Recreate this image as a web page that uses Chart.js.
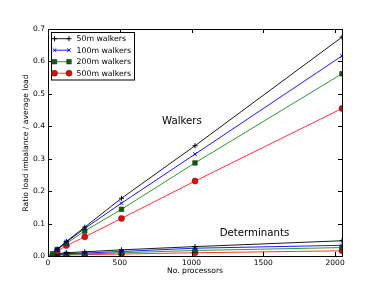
<!DOCTYPE html>
<html><head><meta charset="utf-8">
<script src="https://cdn.jsdelivr.net/npm/chart.js@4/dist/chart.umd.min.js"></script>
<style>html,body{margin:0;padding:0;background:#fff}#wrap{width:380px;height:285px}</style>
</head><body><div id="wrap"><canvas id="c" width="380" height="285"></canvas></div>
<script>
const processors = [32, 64, 128, 256, 512, 1024, 2048];
const seriesNames = ['50m walkers', '100m walkers', '200m walkers', '500m walkers'];
const walkers50  = [null, 0.021, 0.045, 0.089, 0.178, 0.340, 0.675];
const walkers100 = [null, 0.020, 0.043, 0.085, 0.163, 0.314, 0.617];
const walkers200 = [0.007, 0.020, 0.039, 0.077, 0.144, 0.287, 0.562];
const walkers500 = [null, 0.015, 0.032, 0.059, 0.116, 0.231, 0.455];
const dets50  = [0.004, 0.007, 0.010, 0.013, 0.019, 0.029, 0.047];
const dets100 = [0.003, 0.005, 0.007, 0.009, 0.014, 0.024, 0.033];
const dets200 = [0.002, 0.004, 0.005, 0.006, 0.010, 0.017, 0.026];
const dets500 = [0.001, 0.002, 0.003, 0.004, 0.006, 0.010, 0.016];
const xTicks = [0, 500, 1000, 1500, 2000];
const yTicks = [0.0, 0.1, 0.2, 0.3, 0.4, 0.5, 0.6, 0.7];
const annotations = [{text: 'Walkers', x: 794, y: 0.414}, {text: 'Determinants', x: 1196, y: 0.070}];

const styles = [
  {color: '#000000', fill: '#000000', edge: '#000000', point: 'cross', radius: 2.5, bw: 1},
  {color: '#0000ff', fill: '#0000ff', edge: '#0000ff', point: 'crossRot', radius: 2.5, bw: 1},
  {color: '#1a8c1a', fill: '#006400', edge: '#222222', point: 'rect', radius: 3.2, bw: 0.6},
  {color: '#ff2020', fill: '#ee0000', edge: '#333333', point: 'circle', radius: 3, bw: 0.6}
];
const FONT = "'DejaVu Sans', sans-serif";
function pts(arr) { return processors.map((p, i) => ({x: p, y: arr[i]})).filter(d => d.y !== null); }
function ds(label, arr, s, legend) {
  return {label, data: pts(arr), borderColor: s.color, backgroundColor: s.fill,
    pointBorderColor: s.edge, pointBackgroundColor: s.fill, pointStyle: s.point, pointRadius: s.radius,
    pointBorderWidth: s.bw, borderWidth: 0.9, tension: 0, showLine: true, fill: false, _legend: legend};
}
const datasets = [
  ds(seriesNames[0], walkers50, styles[0], true),
  ds(seriesNames[1], walkers100, styles[1], true),
  ds(seriesNames[2], walkers200, styles[2], true),
  ds(seriesNames[3], walkers500, styles[3], true),
  ds('det ' + seriesNames[0], dets50, styles[0], false),
  ds('det ' + seriesNames[1], dets100, styles[1], false),
  ds('det ' + seriesNames[2], dets200, styles[2], false),
  ds('det ' + seriesNames[3], dets500, styles[3], false)
];

const deco = {
  id: 'deco',
  afterDraw(chart) {
    const ctx = chart.ctx, a = chart.chartArea, xs = chart.scales.x, ys = chart.scales.y;
    ctx.save();
    ctx.strokeStyle = '#000'; ctx.lineWidth = 1;
    ctx.strokeRect(Math.round(a.left) + 0.5, Math.round(a.top) + 0.5, Math.round(a.right - a.left), Math.round(a.bottom - a.top));
    const L = 4;
    ctx.beginPath();
    xTicks.forEach(v => { const px = Math.round(xs.getPixelForValue(v)) + 0.5;
      ctx.moveTo(px, a.bottom); ctx.lineTo(px, a.bottom - L);
      ctx.moveTo(px, a.top); ctx.lineTo(px, a.top + L); });
    yTicks.forEach(v => { const py = Math.round(ys.getPixelForValue(v)) + 0.5;
      ctx.moveTo(a.left, py); ctx.lineTo(a.left + L, py);
      ctx.moveTo(a.right, py); ctx.lineTo(a.right - L, py); });
    ctx.stroke();
    ctx.fillStyle = '#000';
    ctx.font = '7.6px ' + FONT;
    ctx.textAlign = 'center'; ctx.textBaseline = 'middle';
    ctx.fillText('No. processors', 195, 271);
    ctx.save(); ctx.translate(26, 143); ctx.rotate(-Math.PI / 2);
    ctx.fillText('Ratio load imbalance / average load', 0, 0); ctx.restore();
    ctx.font = '10.2px ' + FONT; ctx.textAlign = 'left';
    annotations.forEach(t => ctx.fillText(t.text, xs.getPixelForValue(t.x), ys.getPixelForValue(t.y)));
    const lx = 51.5, ly = 32.5, lw = 83, lh = 47.5;
    ctx.fillStyle = '#fff'; ctx.fillRect(lx, ly, lw, lh);
    ctx.strokeStyle = '#000'; ctx.lineWidth = 1; ctx.strokeRect(lx, ly, lw, lh);
    ctx.font = '7.8px ' + FONT;
    chart.data.datasets.filter(d => d._legend).forEach((d, i) => {
      const y = 38.7 + i * 11.5;
      ctx.strokeStyle = d.borderColor; ctx.lineWidth = 0.9;
      ctx.beginPath(); ctx.moveTo(54.5, y); ctx.lineTo(69, y); ctx.stroke();
      [54.5, 69].forEach(x => {
        ctx.fillStyle = d.pointBackgroundColor; ctx.strokeStyle = d.pointBorderColor;
        ctx.lineWidth = d.pointBorderWidth;
        Chart.helpers.drawPoint(ctx, {pointStyle: d.pointStyle, radius: d.pointRadius,
          borderWidth: d.pointBorderWidth, rotation: 0}, x, y);
      });
      ctx.fillStyle = '#000';
      ctx.fillText(d.label, 76.5, y + 0.5);
    });
    ctx.restore();
  }
};

const chart = new Chart(document.getElementById('c'), {
  type: 'line',
  data: {datasets},
  options: {
    responsive: false, animation: false, devicePixelRatio: 1,
    layout: {padding: {top: 29, right: 38, left: 0, bottom: 0}},
    plugins: {legend: {display: false}, tooltip: {enabled: false}},
    scales: {
      x: {type: 'linear', min: 0, max: 2048,
        afterFit(s) { s.height = 29; },
        afterBuildTicks(s) { s.ticks = xTicks.map(v => ({value: v})); },
        grid: {display: false, drawTicks: false}, border: {display: false},
        ticks: {color: '#000', font: {family: FONT, size: 7.5}, padding: 3, maxRotation: 0,
          callback: v => String(v)}},
      y: {type: 'linear', min: 0, max: 0.7,
        afterFit(s) { s.width = 48; },
        afterBuildTicks(s) { s.ticks = yTicks.map(v => ({value: v})); },
        grid: {display: false, drawTicks: false}, border: {display: false},
        ticks: {color: '#000', font: {family: FONT, size: 7.5}, padding: 3,
          callback: v => Number(v).toFixed(1)}}
    }
  },
  plugins: [deco]
});
</script></body></html>
